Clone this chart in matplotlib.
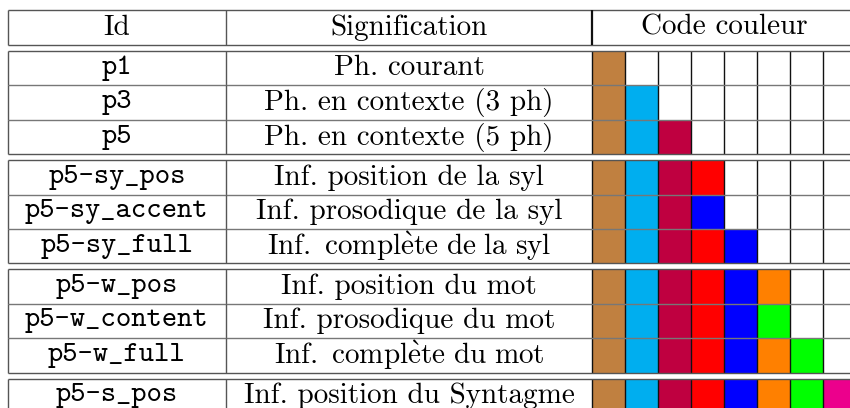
import matplotlib
matplotlib.use("Agg")
import matplotlib.pyplot as plt
from matplotlib.patches import Rectangle

plt.rcParams["mathtext.fontset"] = "cm"

# ── table content ──────────────────────────────────────────────────────────────

headers = ["Id", "Signification", "Code couleur"]

ids = ["p1", "p3", "p5",
       "p5-sy_pos", "p5-sy_accent", "p5-sy_full",
       "p5-w_pos", "p5-w_content", "p5-w_full",
       "p5-s_pos"]

meanings = ["Ph. courant", "Ph. en contexte (3 ph)", "Ph. en contexte (5 ph)",
            "Inf. position de la syl", "Inf. prosodique de la syl",
            "Inf. complète de la syl",
            "Inf. position du mot", "Inf. prosodique du mot",
            "Inf. complète du mot",
            "Inf. position du Syntagme"]

groups = [0, 0, 0, 1, 1, 1, 2, 2, 2, 3]

palette = {
    "brown": "#C08040",
    "cyan": "#00AEEF",
    "purple": "#BF0040",
    "red": "#FF0000",
    "blue": "#0000FF",
    "orange": "#FF8000",
    "green": "#00FF00",
    "magenta": "#EC008C",
}

codes = [
    ["brown"],
    ["brown", "cyan"],
    ["brown", "cyan", "purple"],
    ["brown", "cyan", "purple", "red"],
    ["brown", "cyan", "purple", "blue"],
    ["brown", "cyan", "purple", "red", "blue"],
    ["brown", "cyan", "purple", "red", "blue", "orange"],
    ["brown", "cyan", "purple", "red", "blue", "green"],
    ["brown", "cyan", "purple", "red", "blue", "orange", "green"],
    ["brown", "cyan", "purple", "red", "blue", "orange", "green", "magenta"],
]

n_cells = 8

# ── layout (pixels) ────────────────────────────────────────────────────────────

W, H = 850, 408
x_left, x_id, x_sig = 8, 226, 592
cell_w = 33.0
x_right = x_sig + n_cells * cell_w
head_top, head_bot = 10, 45
row_h = 34.4
gap = 6.0
first_top = head_bot + gap

rm = ["cmr10", "DejaVu Serif"]
tt = ["cmtt10", "DejaVu Sans Mono"]
fs = 21
line_c = "#555555"


def roman(s):
    # cmr10 has no accented glyphs: go through mathtext for those
    if s.isascii():
        return s
    s = s.replace(" ", r"\ ").replace("è", r"\`{e}")
    return r"$\mathrm{" + s + "}$"


fig = plt.figure(figsize=(W / 100, H / 100), dpi=100)
ax = fig.add_axes([0, 0, 1, 1])
ax.set_xlim(0, W)
ax.set_ylim(H, 0)
ax.axis("off")


def hline(y, x0=x_left, x1=x_right, c=line_c, lw=1.0):
    ax.plot([x0, x1], [y, y], color=c, lw=lw, solid_capstyle="butt", zorder=3)


def vline(x, y0, y1, c=line_c, lw=1.0):
    ax.plot([x, x], [y0, y1], color=c, lw=lw, solid_capstyle="butt", zorder=3)


# header
hline(head_top)
hline(head_bot)
vline(x_left, head_top, head_bot)
vline(x_id, head_top, head_bot)
vline(x_sig, head_top, head_bot, c="#111111", lw=1.6)
hy = (head_top + head_bot) / 2
ax.text((x_left + x_id) / 2, hy, headers[0], family=rm, fontsize=fs,
        ha="center", va="center")
ax.text((x_id + x_sig) / 2, hy, headers[1], family=rm, fontsize=fs,
        ha="center", va="center")
ax.text((x_sig + x_right) / 2, hy, headers[2], family=rm, fontsize=fs,
        ha="center", va="center")

# body rows
for i, (rid, mean, grp, code) in enumerate(zip(ids, meanings, groups, codes)):
    top = first_top + i * row_h + grp * gap
    bot = top + row_h
    yc = (top + bot) / 2

    for j in range(n_cells):
        x0 = x_sig + j * cell_w
        fc = palette[code[j]] if j < len(code) else "white"
        ax.add_patch(Rectangle((x0, top), cell_w, row_h, facecolor=fc,
                               edgecolor="none", zorder=1))
        vline(x0, top, bot, c="#111111")

    first_in_group = i == 0 or groups[i - 1] != grp
    hline(top, c=line_c if first_in_group else "#777777")
    if i == len(ids) - 1 or groups[i + 1] != grp:
        hline(bot)

    vline(x_left, top, bot)
    vline(x_id, top, bot)

    ax.text((x_left + x_id) / 2, yc, rid, family=tt, fontsize=fs,
            ha="center", va="center")
    ax.text((x_id + x_sig) / 2, yc, roman(mean), family=rm, fontsize=fs,
            ha="center", va="center")

fig.savefig("out.png", dpi=100)
